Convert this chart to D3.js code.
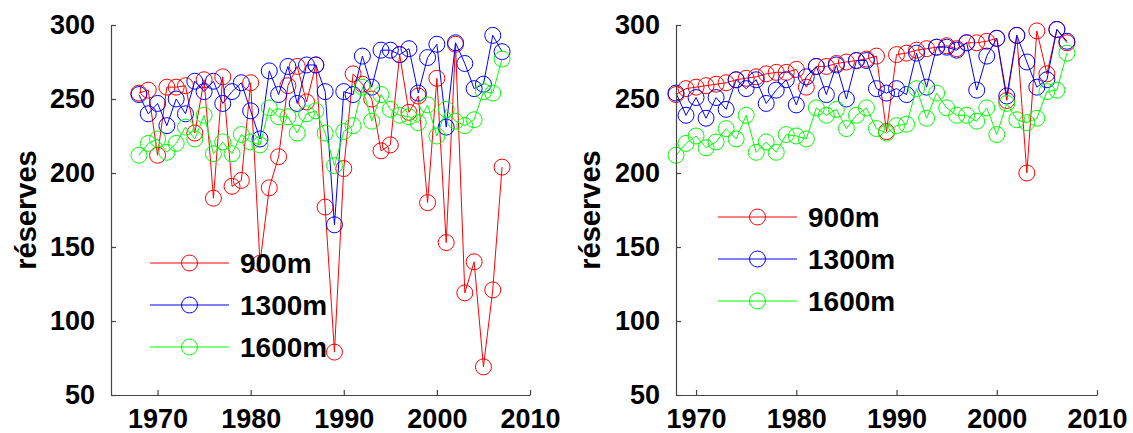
<!DOCTYPE html>
<html><head><meta charset="utf-8">
<script src="https://cdn.jsdelivr.net/npm/d3@7"></script>
<style>body{margin:0;background:#fff;} svg{display:block;}</style>
</head><body>
<svg id="chart" width="1133" height="433"></svg>
<script>
const years = d3.range(1968, 2008);
const seriesNames = ["900m", "1300m", "1600m"];
const seriesColors = ["#ff0000", "#0000ff", "#00ff00"];
const yTicks = [50, 100, 150, 200, 250, 300];
const xTicks = [1970, 1980, 1990, 2000, 2010];
const yLabel = "réserves";

const left900 = [254,256,212,258,258,259,227,263,183,265,191,195,261,139,190,211,259,272,248,273,177,79,203,267,260,250,215,219,280,241,252,180,264,153,287,119,140,69,121,204];
const left1300 = [253,240,247,232,250,240,262,255,262,247,255,261,242,223,269,253,272,247,273,273,255,165,255,253,279,258,283,283,280,284,254,278,287,231,288,274,257,260,293,282];
const left1600 = [212,220,223,214,220,231,223,239,213,221,213,226,221,219,244,238,238,227,240,242,227,205,228,232,258,235,253,243,239,238,234,246,225,243,235,232,236,255,254,277];

const right900 = [253,257,258,259,260,261,263,264,265,267,268,268,270,258,272,272,274,275,276,277,279,228,280,281,283,284,285,286,284,288,288,289,291,249,293,200,296,267,297,288];
const right1300 = [254,239,251,237,251,243,263,257,263,247,256,263,246,265,272,253,273,250,276,276,257,254,257,253,281,258,285,285,283,288,256,279,291,252,293,275,258,263,297,289];
const right1600 = [212,220,225,217,221,230,223,239,214,221,214,226,225,223,244,239,243,230,239,244,230,227,232,233,257,237,254,244,239,239,235,244,226,247,236,234,237,255,256,281];

const svg = d3.select("#chart");
const FONT = "'Liberation Sans', Arial, Helvetica, sans-serif";

const panels = [
  {x0: 111, x1: 530, xDomain: [1965, 2010], series: [left900, left1300, left1600],
   labelX: 26, legend: {lx0: 150, lx1: 229, ys: [263, 305, 347], tx: 240}},
  {x0: 676, x1: 1097, xDomain: [1968, 2010], series: [right900, right1300, right1600],
   labelX: 590, legend: {lx0: 718, lx1: 797, ys: [217, 259, 301], tx: 808}}
];
const yTop = 25, yBot = 395;

panels.forEach(p => {
  const x = d3.scaleLinear().domain(p.xDomain).range([p.x0, p.x1]);
  const y = d3.scaleLinear().domain([50, 300]).range([yBot, yTop]);
  const g = svg.append("g");

  // data
  p.series.forEach((vals, si) => {
    const pts = years.map((yr, i) => [yr, vals[i]]);
    const sg = g.append("g");
    sg.append("path").datum(pts)
      .attr("fill", "none").attr("stroke", seriesColors[si]).attr("stroke-width", 1)
      .attr("d", d3.line().x(d => x(d[0])).y(d => y(d[1])));
    sg.selectAll("circle").data(pts).enter().append("circle")
      .attr("cx", d => x(d[0])).attr("cy", d => y(d[1])).attr("r", 8)
      .attr("fill", "none").attr("stroke", seriesColors[si]).attr("stroke-width", 1);
  });

  // axes
  const xAxis = d3.axisBottom(x).tickValues(xTicks).tickFormat(d3.format("d")).tickSizeInner(-5).tickSizeOuter(0).tickPadding(14);
  const yAxis = d3.axisLeft(y).tickValues(yTicks).tickSizeInner(-5).tickSizeOuter(0).tickPadding(16);
  const gx = g.append("g").attr("transform", `translate(0,${yBot})`).call(xAxis);
  const gy = g.append("g").attr("transform", `translate(${p.x0},0)`).call(yAxis);
  [gx, gy].forEach(a => {
    a.select(".domain").attr("stroke", "#444").attr("stroke-width", 1.2);
    a.selectAll(".tick line").attr("stroke", "#444").attr("stroke-width", 1.2);
    a.selectAll(".tick text").attr("fill", "#000")
      .style("font-family", FONT).style("font-size", "27px").style("font-weight", "bold");
  });
  gx.selectAll(".tick text").attr("dy", "0.71em");

  // y label
  g.append("text")
    .attr("transform", `translate(${p.labelX},${(yTop + yBot) / 2}) rotate(-90)`)
    .attr("text-anchor", "middle").attr("dy", "0.35em")
    .style("font-family", FONT).style("font-size", "29px").style("font-weight", "bold")
    .text(yLabel);

  // legend
  const L = p.legend;
  seriesNames.forEach((name, si) => {
    const ly = L.ys[si];
    g.append("line").attr("x1", L.lx0).attr("x2", L.lx1).attr("y1", ly).attr("y2", ly)
      .attr("stroke", seriesColors[si]).attr("stroke-width", 1);
    g.append("circle").attr("cx", (L.lx0 + L.lx1) / 2).attr("cy", ly).attr("r", 8)
      .attr("fill", "none").attr("stroke", seriesColors[si]).attr("stroke-width", 1);
    g.append("text").attr("x", L.tx).attr("y", ly).attr("dy", "0.36em")
      .style("font-family", FONT).style("font-size", "28px").style("font-weight", "bold")
      .text(name);
  });
});
</script>
</body></html>
